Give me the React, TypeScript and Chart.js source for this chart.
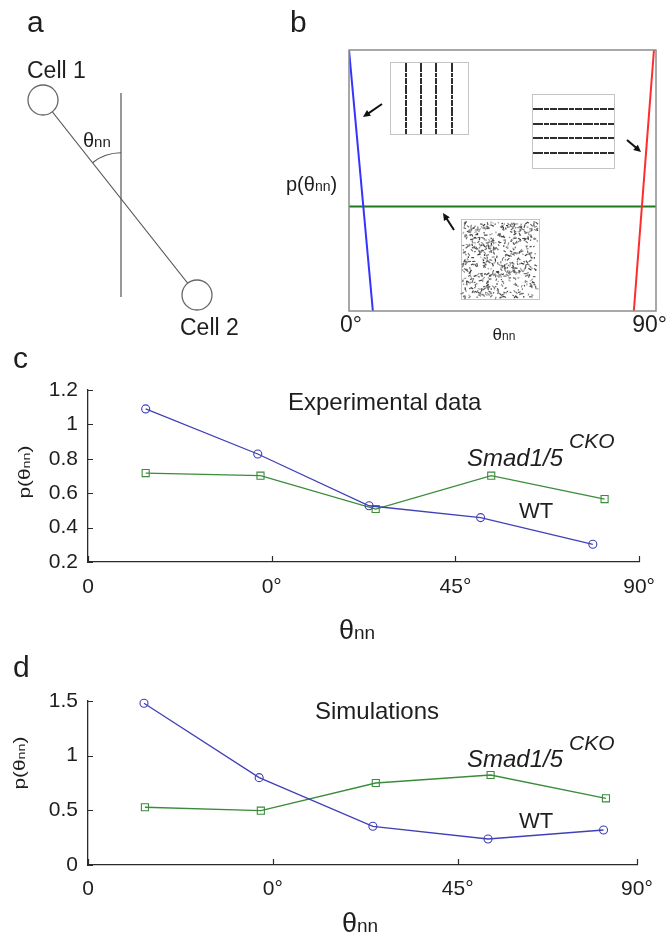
import React, { useEffect, useRef } from "react";
import { Chart, registerables } from "chart.js";
Chart.register(...registerables);

const FONT = "'Liberation Sans', Arial, Helvetica, sans-serif";
const TXT = "#1e1e1e";
const AXIS = "#2a2a2a";
const BLUE = "#4040b8";
const GREEN = "#3a8c3a";

// ---------- Panel a (schematic) ----------
const cellNames = ["Cell 1", "Cell 2"];
const cellX = [43, 197];
const cellY = [100, 295];
const refLineX = [121, 121];
const refLineY = [93, 297];

// ---------- Panel b (idealised distributions) ----------
const bVerticalX = [0, 7];
const bVerticalY = [1, 0];
const bHorizontalX = [89.4, 83.5];
const bHorizontalY = [1, 0];
const bRandomX = [0, 90];
const bRandomY = [0.4, 0.4];
const bTickValues = [0, 90];
const bTickLabels = ["0°", "90°"];

// ---------- Panel c (experimental data) ----------
const cWtX = [0.314, 0.924, 1.53, 2.137, 2.748];
const cWtY = [1.09, 0.828, 0.527, 0.458, 0.303];
const cMutX = [0.314, 0.939, 1.566, 2.195, 2.812];
const cMutY = [0.717, 0.702, 0.508, 0.702, 0.566];
const cYTicks = [0.2, 0.4, 0.6, 0.8, 1, 1.2];
const cXTicks = [0, 1, 2, 3];

// ---------- Panel d (simulations) ----------
const dWtX = [0.303, 0.926, 1.541, 2.164, 2.789];
const dWtY = [1.479, 0.799, 0.354, 0.238, 0.32];
const dMutX = [0.308, 0.935, 1.557, 2.178, 2.802];
const dMutY = [0.528, 0.497, 0.75, 0.823, 0.61];
const dYTicks = [0, 0.5, 1, 1.5];
const dXTicks = [0, 1, 2, 2.97];

const xTickLabels = ["0", "0°", "45°", "90°"];

type Part = { t: string; size: number; dy?: number; italic?: boolean };

function drawParts(
  ctx: CanvasRenderingContext2D,
  parts: Part[],
  x: number,
  y: number,
  align: "left" | "center" | "right" = "left",
  color = TXT
) {
  ctx.save();
  ctx.fillStyle = color;
  ctx.textBaseline = "alphabetic";
  ctx.textAlign = "left";
  const fontOf = (p: Part) => `${p.italic ? "italic " : ""}${p.size}px ${FONT}`;
  let total = 0;
  const ws = parts.map((p) => {
    ctx.font = fontOf(p);
    const w = ctx.measureText(p.t).width;
    total += w;
    return w;
  });
  let cx = align === "left" ? x : align === "center" ? x - total / 2 : x - total;
  parts.forEach((p, i) => {
    ctx.font = fontOf(p);
    ctx.fillText(p.t, cx, y + (p.dy || 0));
    cx += ws[i];
  });
  ctx.restore();
  return total;
}

function drawRotated(
  ctx: CanvasRenderingContext2D,
  parts: Part[],
  cx: number,
  cy: number,
  sx: number,
  baseOff: number
) {
  ctx.save();
  ctx.translate(cx, cy);
  ctx.rotate(-Math.PI / 2);
  ctx.scale(sx, 1);
  drawParts(ctx, parts, 0, baseOff, "center");
  ctx.restore();
}

function ChartCanvas(props: { left: number; top: number; width: number; height: number; make: () => any }) {
  const ref = useRef<HTMLCanvasElement>(null);
  useEffect(() => {
    const chart = new Chart(ref.current as HTMLCanvasElement, props.make());
    return () => chart.destroy();
  }, []);
  return (
    <canvas
      ref={ref}
      width={props.width}
      height={props.height}
      style={{ position: "absolute", left: props.left, top: props.top, width: props.width, height: props.height }}
    />
  );
}

// ---------- Panel a ----------
function makeA() {
  const textPlugin = {
    id: "aText",
    afterDraw(chart: any) {
      const { ctx, scales } = chart;
      const xs = scales.x, ys = scales.y;
      // angle arc at the crossing of the cell-cell line and the reference line
      const t = (refLineX[0] - cellX[0]) / (cellX[1] - cellX[0]);
      const crossY = cellY[0] + t * (cellY[1] - cellY[0]);
      const cx = xs.getPixelForValue(refLineX[0]);
      const cy = ys.getPixelForValue(crossY);
      const p1x = xs.getPixelForValue(cellX[0]);
      const p1y = ys.getPixelForValue(cellY[0]);
      const a1 = Math.atan2(p1y - cy, p1x - cx);
      ctx.save();
      ctx.strokeStyle = "#555";
      ctx.lineWidth = 1.2;
      ctx.beginPath();
      ctx.arc(cx, cy, 46, a1, -Math.PI / 2);
      ctx.stroke();
      ctx.restore();
      drawParts(ctx, [{ t: "a", size: 30 }], 27, 32);
      drawParts(ctx, [{ t: cellNames[0], size: 23 }], 27, 78);
      drawParts(ctx, [{ t: cellNames[1], size: 23 }], 180, 335);
      drawParts(ctx, [{ t: "θ", size: 20 }, { t: "nn", size: 15 }], 83, 147);
    },
  };
  return {
    type: "scatter",
    data: {
      datasets: [
        {
          data: cellX.map((x, i) => ({ x, y: cellY[i] })),
          pointRadius: 15,
          pointBackgroundColor: "#ffffff",
          pointBorderColor: "#666",
          pointBorderWidth: 1.3,
          showLine: false,
          clip: false,
        },
        {
          data: cellX.map((x, i) => ({ x, y: cellY[i] })),
          showLine: true,
          borderColor: "#555",
          borderWidth: 1.2,
          pointRadius: 0,
          clip: false,
        },
        {
          data: refLineX.map((x, i) => ({ x, y: refLineY[i] })),
          showLine: true,
          borderColor: "#555",
          borderWidth: 1.2,
          pointRadius: 0,
          clip: false,
        },
      ],
    },
    options: {
      animation: false,
      responsive: false,
      events: [],
      layout: { padding: 0, autoPadding: false },
      plugins: { legend: { display: false }, tooltip: { enabled: false } },
      scales: {
        x: { type: "linear", min: 0, max: 270, display: false },
        y: { type: "linear", min: 0, max: 345, reverse: true, display: false },
      },
    },
    plugins: [textPlugin],
  };
}

// ---------- Panel b ----------
function makeB() {
  const OX = 270;
  const deco = {
    id: "bDeco",
    afterDraw(chart: any) {
      const { ctx, chartArea: a, scales } = chart;
      ctx.save();
      // box
      ctx.strokeStyle = "#8c8c8c";
      ctx.lineWidth = 1.5;
      ctx.strokeRect(a.left, a.top, a.right - a.left, a.bottom - a.top);

      const line = (x1: number, y1: number, x2: number, y2: number) => {
        ctx.beginPath();
        ctx.moveTo(x1, y1);
        ctx.lineTo(x2, y2);
        ctx.stroke();
      };
      // inset 1: vertical stripes
      ctx.strokeStyle = "#c4c4c4";
      ctx.lineWidth = 1;
      ctx.strokeRect(390 - OX + 0.5, 62.5, 78, 72);
      ctx.strokeStyle = "#2e2e2e";
      ctx.lineWidth = 2;
      ctx.setLineDash([9, 1, 4, 1, 6, 1]);
      [406, 421, 436, 452].forEach((x) => line(x - OX, 63, x - OX, 134));
      ctx.setLineDash([]);
      // inset 2: horizontal stripes
      ctx.strokeStyle = "#c4c4c4";
      ctx.lineWidth = 1;
      ctx.strokeRect(532 - OX + 0.5, 94.5, 82, 74);
      ctx.strokeStyle = "#2e2e2e";
      ctx.lineWidth = 2;
      ctx.setLineDash([10, 1, 5, 1, 7, 1]);
      [109, 124, 138, 153].forEach((y) => line(532 - OX + 1, y, 614 - OX, y));
      ctx.setLineDash([]);
      // inset 3: isotropic texture
      ctx.strokeStyle = "#c4c4c4";
      ctx.lineWidth = 1;
      ctx.strokeRect(461 - OX + 0.5, 219.5, 78, 80);
      const hash = (n: number) => {
        const s = Math.sin(n * 127.1 + 311.7) * 43758.5453;
        return s - Math.floor(s);
      };
      ctx.lineWidth = 1.2;
      for (let i = 0; i < 560; i++) {
        const x = 461 - OX + 2 + hash(i * 3 + 1) * 74;
        const y = 221 + hash(i * 3 + 2) * 76;
        const ang = hash(i * 3 + 3) * Math.PI;
        const len = 1.2 + hash(i * 7 + 5) * 2.5;
        const g = Math.floor(50 + hash(i * 11 + 9) * 120);
        ctx.strokeStyle = `rgb(${g},${g},${g})`;
        line(x, y, x + Math.cos(ang) * len, y + Math.sin(ang) * len);
      }
      // arrows
      const arrow = (x1: number, y1: number, x2: number, y2: number) => {
        ctx.strokeStyle = "#111";
        ctx.fillStyle = "#111";
        ctx.lineWidth = 2;
        const ang = Math.atan2(y2 - y1, x2 - x1);
        const hx = x2 - Math.cos(ang) * 6, hy = y2 - Math.sin(ang) * 6;
        line(x1, y1, hx, hy);
        ctx.beginPath();
        ctx.moveTo(x2, y2);
        ctx.lineTo(x2 - Math.cos(ang - 0.45) * 8, y2 - Math.sin(ang - 0.45) * 8);
        ctx.lineTo(x2 - Math.cos(ang + 0.45) * 8, y2 - Math.sin(ang + 0.45) * 8);
        ctx.closePath();
        ctx.fill();
      };
      arrow(382 - OX, 104, 363 - OX, 117);
      arrow(627 - OX, 140, 641 - OX, 152);
      arrow(454 - OX, 230, 443 - OX, 213);
      ctx.restore();

      // tick labels
      const xs = scales.x;
      bTickValues.forEach((v, i) => {
        const px = xs.getPixelForValue(v);
        ctx.save();
        ctx.font = `23px ${FONT}`;
        const w = ctx.measureText(bTickLabels[i]).width;
        ctx.restore();
        const cx = Math.min(px + 2, chart.width - w / 2 - 1);
        drawParts(ctx, [{ t: bTickLabels[i], size: 23 }], cx, 332, "center");
      });
      drawParts(ctx, [{ t: "θ", size: 17 }, { t: "nn", size: 12 }], 504 - OX, 340, "center");
      drawParts(ctx, [{ t: "p(θ", size: 20 }, { t: "nn", size: 14 }, { t: ")", size: 20 }], 286 - OX, 191);
      drawParts(ctx, [{ t: "b", size: 30 }], 290 - OX, 32);
    },
  };
  const ds = (xs: number[], ys: number[], color: string) => ({
    data: xs.map((x, i) => ({ x, y: ys[i] })),
    borderColor: color,
    borderWidth: 2,
    pointRadius: 0,
    tension: 0,
  });
  return {
    type: "line",
    data: {
      datasets: [
        ds(bVerticalX, bVerticalY, "#3434ff"),
        ds(bHorizontalX, bHorizontalY, "#ff2d2d"),
        ds(bRandomX, bRandomY, "#1f7a1f"),
      ],
    },
    options: {
      animation: false,
      responsive: false,
      events: [],
      layout: { padding: { left: 79, top: 50, right: 12, bottom: 34 }, autoPadding: false },
      plugins: { legend: { display: false }, tooltip: { enabled: false } },
      scales: {
        x: { type: "linear", min: 0, max: 90, display: false },
        y: { type: "linear", min: 0, max: 1, display: false },
      },
    },
    plugins: [deco],
  };
}

// ---------- Panels c and d ----------
type SeriesOpts = {
  wtX: number[];
  wtY: number[];
  mutX: number[];
  mutY: number[];
  yTicks: number[];
  xTicks: number[];
  padTop: number;
  padRight: number;
  xAxisH: number;
  xPad: number;
  canvasTop: number;
  letter: string;
  letterY: number;
  title: string;
  titleY: number;
  titleX: number;
  mutY0: number;
  supY0: number;
  wtY0: number;
  yTitle: [number, number];
  xTitle: [number, number];
};

function makeSeries(o: SeriesOpts) {
  const T = o.canvasTop;
  const deco = {
    id: "seriesDeco",
    afterDraw(chart: any) {
      const { ctx, chartArea: a, scales } = chart;
      ctx.save();
      ctx.strokeStyle = AXIS;
      ctx.lineWidth = 1.2;
      ctx.beginPath();
      scales.y.ticks.forEach((t: any) => {
        const py = Math.round(scales.y.getPixelForValue(t.value)) + 0.5;
        ctx.moveTo(a.left, py);
        ctx.lineTo(a.left + 5, py);
      });
      scales.x.ticks.forEach((t: any) => {
        const px = Math.round(scales.x.getPixelForValue(t.value)) + 0.5;
        ctx.moveTo(px, a.bottom);
        ctx.lineTo(px, a.bottom - 6);
      });
      ctx.stroke();
      ctx.restore();
      drawParts(ctx, [{ t: o.letter, size: 30 }], 13, o.letterY - T);
      drawParts(ctx, [{ t: o.title, size: 24 }], o.titleX, o.titleY - T);
      drawParts(ctx, [{ t: "Smad1/5", size: 24, italic: true }], 467, o.mutY0 - T);
      drawParts(ctx, [{ t: "CKO", size: 21, italic: true }], 569, o.supY0 - T);
      drawParts(ctx, [{ t: "WT", size: 22 }], 519, o.wtY0 - T);
      drawRotated(
        ctx,
        [{ t: "p(θ", size: 16 }, { t: "nn", size: 11 }, { t: ")", size: 16 }],
        o.yTitle[0],
        o.yTitle[1] - T,
        1.3,
        5
      );
      drawParts(ctx, [{ t: "θ", size: 27 }, { t: "nn", size: 19 }], o.xTitle[0], o.xTitle[1] - T, "center");
    },
  };
  const font = { family: FONT, size: 21 };
  return {
    type: "line",
    data: {
      datasets: [
        {
          label: "WT",
          data: o.wtX.map((x, i) => ({ x, y: o.wtY[i] })),
          borderColor: BLUE,
          borderWidth: 1.3,
          pointStyle: "circle",
          pointRadius: 4,
          pointBorderColor: BLUE,
          pointBackgroundColor: "rgba(255,255,255,0)",
          pointBorderWidth: 1.1,
          tension: 0,
          clip: false,
        },
        {
          label: "Smad1/5 CKO",
          data: o.mutX.map((x, i) => ({ x, y: o.mutY[i] })),
          borderColor: GREEN,
          borderWidth: 1.3,
          pointStyle: "rect",
          pointRadius: 5,
          pointBorderColor: GREEN,
          pointBackgroundColor: "rgba(255,255,255,0)",
          pointBorderWidth: 1.1,
          tension: 0,
          clip: false,
        },
      ],
    },
    options: {
      animation: false,
      responsive: false,
      events: [],
      layout: { padding: { top: o.padTop, right: o.padRight, left: 0, bottom: 0 } },
      plugins: { legend: { display: false }, tooltip: { enabled: false } },
      scales: {
        x: {
          type: "linear",
          min: o.xTicks[0],
          max: o.xTicks[o.xTicks.length - 1],
          afterBuildTicks: (s: any) => {
            s.ticks = o.xTicks.map((v) => ({ value: v }));
          },
          afterFit: (s: any) => {
            s.height = o.xAxisH;
          },
          grid: { display: false, drawTicks: false },
          border: { display: true, color: AXIS, width: 1.3 },
          ticks: {
            autoSkip: false,
            maxRotation: 0,
            padding: o.xPad,
            color: TXT,
            font,
            callback: (_v: any, i: number) => xTickLabels[i],
          },
        },
        y: {
          type: "linear",
          min: o.yTicks[0],
          max: o.yTicks[o.yTicks.length - 1],
          afterBuildTicks: (s: any) => {
            s.ticks = o.yTicks.map((v) => ({ value: v }));
          },
          afterFit: (s: any) => {
            s.width = 88;
          },
          grid: { display: false, drawTicks: false },
          border: { display: true, color: AXIS, width: 1.3 },
          ticks: {
            padding: 10,
            color: TXT,
            font,
            callback: (v: any) => String(v),
          },
        },
      },
    },
    plugins: [deco],
  };
}

const C_TOP = 335;
const D_TOP = 640;

export default function App() {
  return (
    <div
      style={{
        position: "absolute",
        left: 0,
        top: 0,
        width: 668,
        height: 936,
        background: "#ffffff",
        overflow: "hidden",
      }}
    >
      <ChartCanvas left={0} top={0} width={270} height={345} make={makeA} />
      <ChartCanvas left={270} top={0} width={398} height={345} make={makeB} />
      <ChartCanvas
        left={0}
        top={C_TOP}
        width={668}
        height={310}
        make={() =>
          makeSeries({
            wtX: cWtX,
            wtY: cWtY,
            mutX: cMutX,
            mutY: cMutY,
            yTicks: cYTicks,
            xTicks: cXTicks,
            padTop: 55,
            padRight: 25,
            xAxisH: 83,
            xPad: 13,
            canvasTop: C_TOP,
            letter: "c",
            letterY: 368,
            title: "Experimental data",
            titleY: 410,
            titleX: 288,
            mutY0: 466,
            supY0: 448,
            wtY0: 518,
            yTitle: [25, 472],
            xTitle: [357, 639],
          })
        }
      />
      <ChartCanvas
        left={0}
        top={D_TOP}
        width={668}
        height={296}
        make={() =>
          makeSeries({
            wtX: dWtX,
            wtY: dWtY,
            mutX: dMutX,
            mutY: dMutY,
            yTicks: dYTicks,
            xTicks: dXTicks,
            padTop: 61,
            padRight: 31,
            xAxisH: 71,
            xPad: 12,
            canvasTop: D_TOP,
            letter: "d",
            letterY: 677,
            title: "Simulations",
            titleY: 719,
            titleX: 315,
            mutY0: 767,
            supY0: 750,
            wtY0: 828,
            yTitle: [20, 763],
            xTitle: [360, 932],
          })
        }
      />
    </div>
  );
}
